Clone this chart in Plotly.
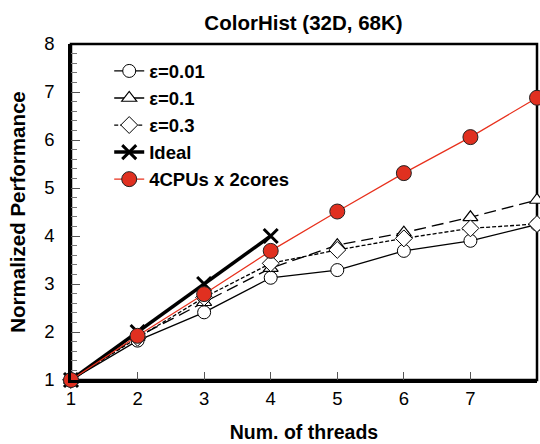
import plotly.graph_objects as go

threads = [1, 2, 3, 4, 5, 6, 7, 8]
eps001 = [1.0, 1.82, 2.41, 3.13, 3.29, 3.69, 3.90, 4.24]
eps01 = [1.0, 1.90, 2.62, 3.33, 3.81, 4.07, 4.39, 4.75]
eps03 = [1.0, 1.88, 2.72, 3.43, 3.71, 3.95, 4.16, 4.25]
ideal_x = [1, 2, 3, 4]
ideal = [1, 2, 3, 4]
cpus = [1.0, 1.92, 2.79, 3.69, 4.51, 5.31, 6.06, 6.88]

FONT = "Liberation Sans, Arial, sans-serif"

fig = go.Figure()
fig.add_trace(go.Scatter(
    x=threads, y=eps001, name="ε=0.01", mode="lines+markers",
    line=dict(color="black", width=1.3, dash="solid"),
    marker=dict(symbol="circle", size=13, color="white", line=dict(color="black", width=1)),
    cliponaxis=False))
fig.add_trace(go.Scatter(
    x=threads, y=eps01, name="ε=0.1", mode="lines+markers",
    line=dict(color="black", width=1.3, dash="12px,6px"),
    marker=dict(symbol="triangle-up", size=13, color="white", line=dict(color="black", width=1.2)),
    cliponaxis=False))
fig.add_trace(go.Scatter(
    x=threads, y=eps03, name="ε=0.3", mode="lines+markers",
    line=dict(color="black", width=1.3, dash="4px,2px"),
    marker=dict(symbol="diamond", size=13, color="white", line=dict(color="black", width=1)),
    cliponaxis=False))
fig.add_trace(go.Scatter(
    x=ideal_x, y=ideal, name="Ideal", mode="lines+markers",
    line=dict(color="black", width=3.5),
    marker=dict(symbol="x-thin", size=14, color="black", line=dict(color="black", width=3)),
    cliponaxis=False))
fig.add_trace(go.Scatter(
    x=threads, y=cpus, name="4CPUs x 2cores", mode="lines+markers",
    line=dict(color="#e8301c", width=1.2),
    marker=dict(symbol="circle", size=15, color="#e03020", line=dict(color="#222222", width=1)),
    cliponaxis=False))

fig.update_layout(
    width=540, height=444,
    margin=dict(l=71, r=3, t=44, b=64),
    paper_bgcolor="white", plot_bgcolor="white",
    font=dict(family=FONT, color="black", size=17),
    title=dict(text="<b>ColorHist (32D, 68K)</b>", x=0.562, xanchor="center",
               y=0.949, yanchor="middle", font=dict(size=20.5, family=FONT)),
    showlegend=True,
    legend=dict(x=0.082, y=0.975, xanchor="left", yanchor="top",
                bgcolor="rgba(0,0,0,0)", font=dict(size=18.5, family=FONT),
                tracegroupgap=0, itemwidth=30),
)
fig.update_xaxes(
    range=[1, 8], tickmode="linear", tick0=1, dtick=1, ticks="inside", ticklen=8, tickwidth=1.2,
    tickcolor="#555555", showline=True, linewidth=2.5, linecolor="black", mirror=False,
    showgrid=False, zeroline=False, tickfont=dict(size=18.5),
    title=dict(text="<b>Num. of threads</b>", font=dict(size=19.5), standoff=18))
fig.update_yaxes(
    range=[1, 8], tickmode="linear", tick0=1, dtick=1, ticks="inside", ticklen=9, tickwidth=1.2,
    tickcolor="#555555", showline=True, linewidth=2.5, linecolor="black", mirror=False,
    showgrid=False, zeroline=False, tickfont=dict(size=18.5), ticklabelstandoff=10,
    minor=dict(ticks="inside", ticklen=6, dtick=0.2, tickcolor="#777777", tickwidth=1),
    title=dict(text="<b>Normalized Performance</b>", font=dict(size=20.5), standoff=14))

# frame on top/right as plot edges
fig.add_shape(type="rect", xref="paper", yref="paper", x0=0, y0=0, x1=1, y1=1,
              line=dict(color="black", width=2.5), layer="below")

for t in fig.data:
    t.name = "<b>" + t.name + "</b>"

fig.write_html("out.html")
